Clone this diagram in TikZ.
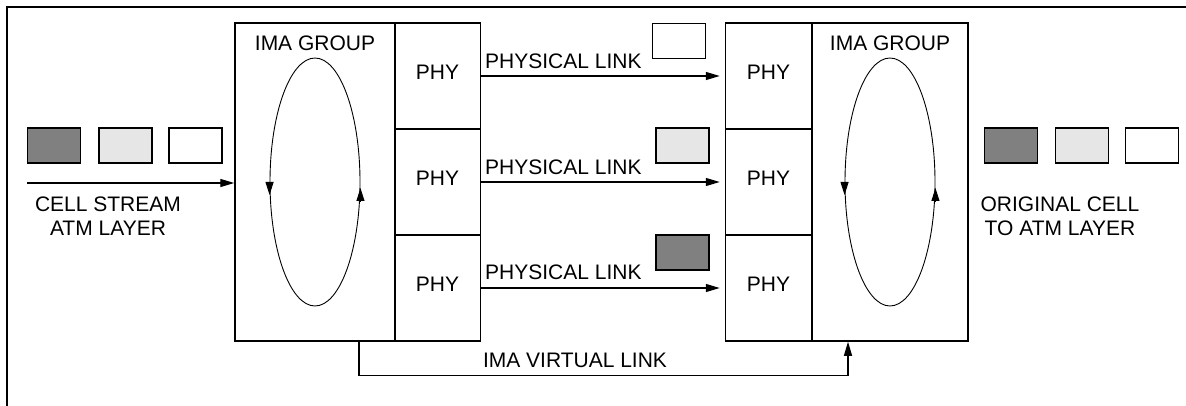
\documentclass[tikz,border=0pt]{standalone}
\usepackage{fontspec}
\setmainfont{Liberation Sans}
\usetikzlibrary{arrows.meta,shapes.geometric}
\definecolor{cellDark}{RGB}{128,128,128}
\definecolor{cellLight}{RGB}{230,230,230}

\begin{document}
\begin{tikzpicture}[x=1pt,y=-1pt]
\tikzset{
  boxnode/.style={rectangle,draw=black,line width=1.5pt,inner sep=0pt,font=\fontsize{21}{24}\selectfont},
  groupbox/.style={boxnode,minimum width=160pt,minimum height=318pt},
  phybox/.style={boxnode,minimum width=86pt,minimum height=106pt,text depth=8pt},
  cellbox/.style={rectangle,draw=black,line width=1.5pt,minimum width=53pt,minimum height=35pt,inner sep=0pt},
  darkcell/.style={cellbox,fill=cellDark},
  lightcell/.style={cellbox,fill=cellLight},
  whitecell/.style={cellbox,fill=white},
  textnode/.style={inner sep=0pt,align=center,font=\fontsize{21}{24}\selectfont},
  loopnode/.style={ellipse,draw=black,line width=0.9pt,minimum width=90pt,minimum height=248pt,inner sep=0pt},
  linkedge/.style={draw=black,line width=1.3pt,-{Triangle[length=14pt,width=8pt]}},
  looptip/.style={draw=black,line width=0.9pt,-{Triangle[length=13pt,width=8pt]}}
}
\useasboundingbox (0,0) rectangle (1186,406);
\draw[line width=1.5pt] (1186,7) -- (7,7) -- (7,406);
\node[groupbox] (n_grpL) at (315,182) {};
\node[phybox] (n_phyL1) at (437.5,76) {PHY};
\node[phybox] (n_phyL2) at (437.5,182) {PHY};
\node[phybox] (n_phyL3) at (437.5,288) {PHY};
\node[phybox] (n_phyR1) at (768.5,76) {PHY};
\node[phybox] (n_phyR2) at (768.5,182) {PHY};
\node[phybox] (n_phyR3) at (768.5,288) {PHY};
\node[groupbox,minimum width=156pt] (n_grpR) at (890,182) {};
\node[textnode] (n_grpLlbl) at (315,43) {IMA GROUP};
\node[textnode] (n_grpRlbl) at (890,43) {IMA GROUP};
\node[loopnode] (n_loopL) at (315,182) {};
\node[loopnode] (n_loopR) at (890,182) {};
\draw[looptip] (n_loopL.west) -- ++(0,13);
\draw[looptip] ([yshift=-20pt]n_loopL.east) -- ([yshift=-6pt]n_loopL.east);
\draw[looptip] (n_loopR.west) -- ++(0,13);
\draw[looptip] ([yshift=-20pt]n_loopR.east) -- ([yshift=-6pt]n_loopR.east);
\node[darkcell] (n_cellL1) at (54,145.5) {};
\node[lightcell] (n_cellL2) at (125.5,145.5) {};
\node[whitecell] (n_cellL3) at (195.5,145.5) {};
\node[darkcell] (n_cellR1) at (1011,145.5) {};
\node[lightcell] (n_cellR2) at (1082,145.5) {};
\node[whitecell] (n_cellR3) at (1152,145.5) {};
\node[whitecell] (n_cellK1) at (679,41) {};
\node[lightcell] (n_cellK2) at (682.5,145.5) {};
\node[darkcell] (n_cellK3) at (682.5,252.5) {};
\node[textnode,anchor=west] (n_link1) at (485,61) {PHYSICAL LINK};
\node[textnode,anchor=west] (n_link2) at (485,167) {PHYSICAL LINK};
\node[textnode,anchor=west] (n_link3) at (485,272) {PHYSICAL LINK};
\node[textnode] (n_inlbl) at (108,216) {CELL STREAM\\ATM LAYER};
\node[textnode] (n_outlbl) at (1060,216) {ORIGINAL CELL\\TO ATM LAYER};
\node[textnode] (n_vlbl) at (575,360) {IMA VIRTUAL LINK};
\coordinate (n_in) at (27,183);
\draw[linkedge] (n_in) -- (n_in -| n_grpL.west);
\draw[linkedge,shorten >=5pt] (n_phyL1) -- (n_phyR1);
\draw[linkedge,shorten >=5pt] (n_phyL2) -- (n_phyR2);
\draw[linkedge,shorten >=5pt] (n_phyL3) -- (n_phyR3);
\draw[linkedge] ([xshift=44pt]n_grpL.south) -- ++(0,34) -| ([xshift=-42pt]n_grpR.south);
\end{tikzpicture}
\end{document}
